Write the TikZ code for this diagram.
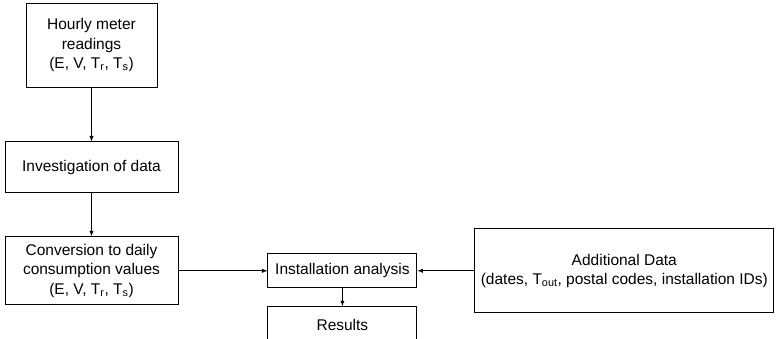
\documentclass[tikz,border=0pt]{standalone}
\usepackage{fontspec}
\setmainfont{Liberation Sans}
\usetikzlibrary{positioning}
\tikzset{stepbox/.style={rectangle,
                        draw=black,
                        line width=0.9pt,
                        align=center,
                        inner sep=0pt,
                        font=\fontsize{15.5}{19.5}\selectfont
                        },
        flow/.style={->,>=latex,line width=0.9pt},
}

\begin{document}
\begin{tikzpicture}
    \useasboundingbox (0,0) rectangle (778pt,-338pt);

    % LEFT COLUMN
    \node[stepbox, minimum width=131pt, minimum height=84pt] (hourly) at (91.5pt,-45pt)
        {Hourly meter\\readings\\(E, V, T\textsubscript{r}, T\textsubscript{s})};

    \node[stepbox, minimum width=173pt, minimum height=51pt, below=54pt of hourly] (investigation)
        {Investigation of data};

    \node[stepbox, minimum width=173pt, minimum height=68pt, below=43pt of investigation] (conversion)
        {Conversion to daily\\consumption values\\(E, V, T\textsubscript{r}, T\textsubscript{s})};

    % ANALYSIS
    \node[stepbox, minimum width=149pt, minimum height=34pt, right=89pt of conversion] (installation)
        {Installation analysis};

    \node[stepbox, minimum width=149pt, minimum height=36pt, below=18pt of installation] (results)
        {Results};

    \node[stepbox, minimum width=299pt, minimum height=84pt, right=57pt of installation] (additional)
        {Additional Data\\(dates, T\textsubscript{out}, postal codes, installation IDs)};

    \draw[flow] (hourly) -- (investigation);
    \draw[flow] (investigation) -- (conversion);
    \draw[flow] (conversion) -- (installation);
    \draw[flow] (additional) -- (installation);
    \draw[flow] (installation) -- (results);

\end{tikzpicture}
\end{document}
